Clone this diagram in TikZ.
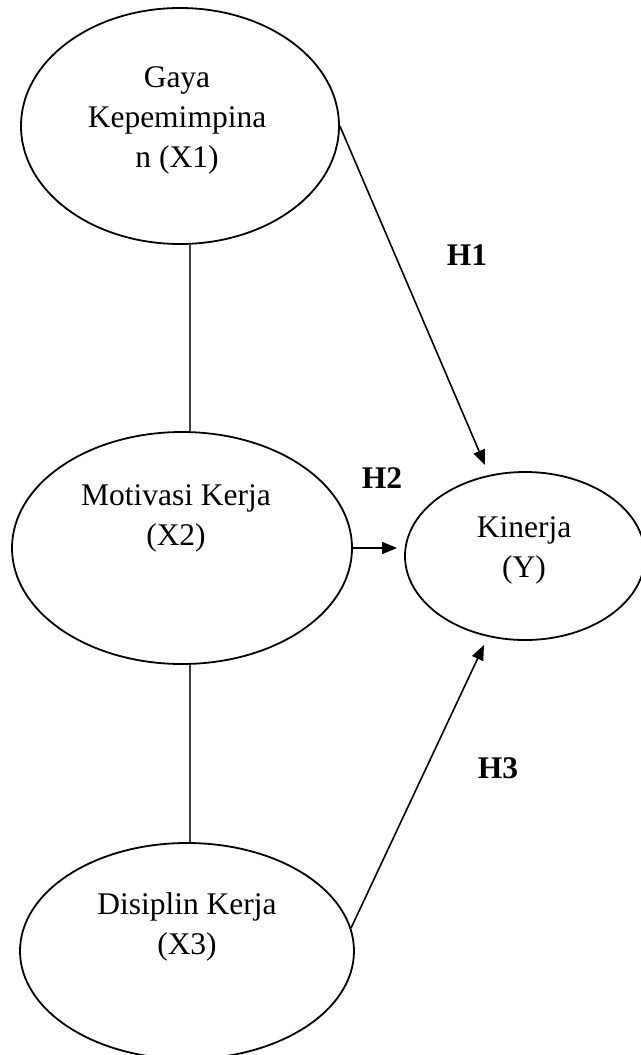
\documentclass[tikz,border=0pt]{standalone}
\usepackage{fontspec}
\setmainfont{Liberation Serif}
\usetikzlibrary{shapes.geometric,arrows.meta}
\begin{document}
\begin{tikzpicture}[x=1pt,y=-1pt,
  oval/.style={draw=black,ellipse,line width=1.8pt,inner sep=0pt},
  txt/.style={align=center,font=\fontsize{31.5}{40}\selectfont,inner sep=0pt},
  hlab/.style={font=\fontsize{31.5}{40}\selectfont\bfseries,inner sep=0pt},
  link/.style={draw=black!75,line width=1.5pt},
  arr/.style={draw=black,line width=1.6pt,-{Triangle[length=15pt,width=12pt]}}]
\useasboundingbox (0,0) rectangle (640,1055);
\fill[white] (0,0) rectangle (640,1055);
% ellipses
\node[oval,minimum width=318pt,minimum height=236pt] (x1) at (180,126) {};
\node[oval,minimum width=340pt,minimum height=232pt] (x2) at (182,548) {};
\node[oval,minimum width=240pt,minimum height=168pt] (y)  at (525,556) {};
\node[oval,minimum width=334pt,minimum height=216pt] (x3) at (187,951) {};
% texts
\node[txt] (x1t) at (177,120) {Gaya\\Kepemimpina\\n (X1)};
\node[txt] (x2t) at (176,518) {Motivasi Kerja\\(X2)};
\node[txt] (yt)  at (524,550) {Kinerja\\(Y)};
\node[txt] (x3t) at (187,927) {Disiplin Kerja\\(X3)};
% hypothesis labels
\node[hlab] (h1) at (467,255) {H1};
\node[hlab] (h2) at (382,478) {H2};
\node[hlab] (h3) at (498,768) {H3};
% connectors
\coordinate (lx) at (190,0);
\draw[link] (x1.south -| lx) -- (x2.north -| lx);
\draw[link] (x2.south -| lx) -- (x3.north -| lx);
\coordinate (t1) at (485,465);
\coordinate (t3) at (484,645);
\draw[arr] (x1.east) -- (t1);
\draw[arr,shorten >=7pt] (x2.east) -- (x2.east -| y.west);
\draw[arr] (x3.8) -- (t3);
\end{tikzpicture}
\end{document}
